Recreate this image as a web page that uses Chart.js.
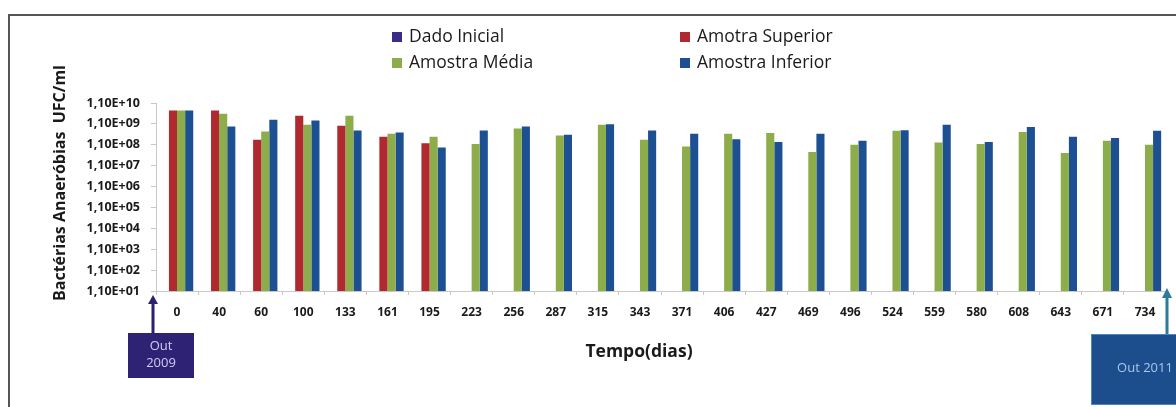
<!DOCTYPE html>
<html>
<head>
<meta charset="utf-8">
<script src="https://cdn.jsdelivr.net/npm/chart.js@4.4.1/dist/chart.umd.min.js"></script>
<style>
  html, body { margin: 0; padding: 0; background: #ffffff; }
  #wrap { position: relative; width: 1176px; height: 407px; }
</style>
</head>
<body>
<div id="wrap"><canvas id="c" width="1176" height="407"></canvas></div>
<script>
// Sampling days
const dias = ['0','40','60','100','133','161','195','223','256','287','315','343',
              '371','406','427','469','496','524','559','580','608','643','671','734'];

// Anaerobic bacteria counts (UFC/ml)
const dadoInicial = [null,null,null,null,null,null,null,null,null,null,null,null,
                     null,null,null,null,null,null,null,null,null,null,null,null];
const amostraSuperior = [4.8e9,4.8e9,1.9e8,2.7e9,8.9e8,2.7e8,1.3e8,null,null,null,null,null,
                         null,null,null,null,null,null,null,null,null,null,null,null];
const amostraMedia = [4.8e9,3.4e9,4.7e8,1.0e9,2.7e9,3.7e8,2.7e8,1.2e8,6.6e8,3.1e8,1.0e9,1.9e8,
                      9.1e7,3.7e8,4.0e8,4.9e7,1.1e8,5.1e8,1.4e8,1.2e8,4.5e8,4.4e7,1.7e8,1.1e8];
const amostraInferior = [4.8e9,8.3e8,1.74e9,1.6e9,5.3e8,4.3e8,8.1e7,5.3e8,8.3e8,3.3e8,1.07e9,5.3e8,
                         3.7e8,2.0e8,1.5e8,3.7e8,1.7e8,5.5e8,1.0e9,1.5e8,7.8e8,2.7e8,2.3e8,5.1e8];

// Log axis ticks
const yTickValues = [1.1e1,1.1e2,1.1e3,1.1e4,1.1e5,1.1e6,1.1e7,1.1e8,1.1e9,1.1e10];
const yTickLabels = ['1,10E+01','1,10E+02','1,10E+03','1,10E+04','1,10E+05',
                     '1,10E+06','1,10E+07','1,10E+08','1,10E+09','1,10E+10'];

const yTitle = 'Bactérias Anaeróbias  UFC/ml';
const xTitle = 'Tempo(dias)';

const FONT = '"Open Sans", Lato, sans-serif';

// Legend, axis titles, frame and date call-outs
const decor = {
  id: 'decor',
  afterDraw(chart) {
    const ctx = chart.ctx;
    const ca = chart.chartArea;
    ctx.save();

    // outer frame
    ctx.strokeStyle = '#555555';
    ctx.lineWidth = 2;
    ctx.beginPath();
    ctx.moveTo(9, 407);
    ctx.lineTo(9, 15);
    ctx.lineTo(1176, 15);
    ctx.stroke();

    // legend, two columns
    const cols = [392, 680];
    const rows = [37, 63];
    chart.data.datasets.forEach((ds, i) => {
      const x = cols[i % 2];
      const y = rows[Math.floor(i / 2)];
      ctx.fillStyle = ds.backgroundColor;
      ctx.fillRect(x, y - 5, 10, 10);
      ctx.fillStyle = '#1a1a1a';
      ctx.font = '17.5px ' + FONT;
      ctx.textAlign = 'left';
      ctx.textBaseline = 'middle';
      ctx.fillText(ds.label, x + 17, y);
    });

    // y axis title
    ctx.save();
    ctx.translate(60, 183);
    ctx.rotate(-Math.PI / 2);
    ctx.font = 'bold 16px ' + FONT;
    ctx.textAlign = 'center';
    ctx.textBaseline = 'middle';
    ctx.fillStyle = '#1a1a1a';
    ctx.fillText(yTitle, 0, 0);
    ctx.restore();

    // x axis title
    ctx.font = 'bold 17.5px ' + FONT;
    ctx.textAlign = 'center';
    ctx.textBaseline = 'middle';
    ctx.fillStyle = '#1a1a1a';
    ctx.fillText(xTitle, 639, 352);

    // start marker: arrow + box
    const ax = ca.left - 3;
    ctx.fillStyle = '#2b2270';
    ctx.fillRect(ax - 1.5, 302, 3, 32);
    ctx.beginPath();
    ctx.moveTo(ax, 295);
    ctx.lineTo(ax - 5, 304);
    ctx.lineTo(ax + 5, 304);
    ctx.closePath();
    ctx.fill();
    ctx.fillStyle = '#2e2275';
    ctx.fillRect(128, 333, 66, 45);
    ctx.fillStyle = '#d2ccf4';
    ctx.font = '13px ' + FONT;
    ctx.fillText('Out', 161, 346);
    ctx.fillText('2009', 161, 363);

    // end marker: arrow + box
    const bx = ca.right + 1;
    ctx.fillStyle = '#2a7c99';
    ctx.fillRect(bx - 1.5, 297, 3, 38);
    ctx.beginPath();
    ctx.moveTo(bx, 288);
    ctx.lineTo(bx - 5, 298);
    ctx.lineTo(bx + 5, 298);
    ctx.closePath();
    ctx.fill();
    ctx.fillStyle = '#1c4e8e';
    ctx.fillRect(1091, 334, 90, 70);
    ctx.strokeStyle = '#4a86c0';
    ctx.lineWidth = 1;
    ctx.strokeRect(1091.5, 334.5, 90, 70);
    ctx.fillStyle = '#a9c6ea';
    ctx.font = '13px ' + FONT;
    ctx.fillText('Out 2011', 1145, 368);

    ctx.restore();
  }
};

new Chart(document.getElementById('c'), {
  type: 'bar',
  data: {
    labels: dias,
    datasets: [
      { label: 'Dado Inicial', data: dadoInicial, backgroundColor: '#3a2d8a' },
      { label: 'Amotra Superior', data: amostraSuperior, backgroundColor: '#b0292e' },
      { label: 'Amostra Média', data: amostraMedia, backgroundColor: '#8dac4a' },
      { label: 'Amostra Inferior', data: amostraInferior, backgroundColor: '#1d4f93' }
    ]
  },
  options: {
    responsive: false,
    animation: false,
    events: [],
    layout: { padding: { top: 103, right: 10, bottom: 0, left: 0 } },
    datasets: { bar: { categoryPercentage: 0.77, barPercentage: 1.0 } },
    plugins: { legend: { display: false }, tooltip: { enabled: false } },
    scales: {
      x: {
        grid: { drawOnChartArea: false, tickLength: 4, color: '#c8c8c8', offset: true },
        border: { color: '#c8c8c8' },
        ticks: { color: '#1a1a1a', font: { family: FONT, size: 12, weight: 'bold' }, padding: 10, maxRotation: 0, autoSkip: false },
        afterFit(s) { s.height = 116; }
      },
      y: {
        type: 'logarithmic',
        min: yTickValues[0],
        max: yTickValues[yTickValues.length - 1],
        grid: { drawOnChartArea: false, tickLength: 5, color: '#c8c8c8' },
        border: { color: '#c8c8c8' },
        afterBuildTicks(s) { s.ticks = yTickValues.map(v => ({ value: v })); },
        ticks: {
          color: '#1a1a1a',
          font: { family: FONT, size: 12.5, weight: 'bold' },
          padding: 11,
          autoSkip: false,
          callback(v) { const i = yTickValues.indexOf(v); return i >= 0 ? yTickLabels[i] : ''; }
        },
        afterFit(s) { s.width = 156; }
      }
    }
  },
  plugins: [decor]
});
</script>
</body>
</html>
